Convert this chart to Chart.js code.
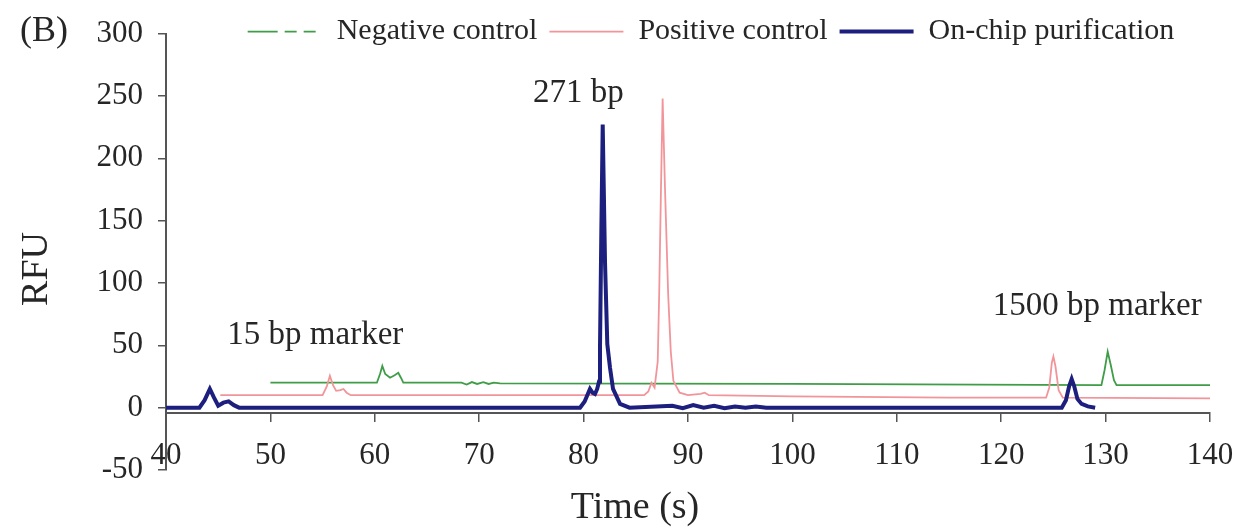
<!DOCTYPE html>
<html>
<head>
<meta charset="utf-8">
<script src="https://cdn.jsdelivr.net/npm/chart.js@4/dist/chart.umd.min.js"></script>
<style>
html,body{margin:0;padding:0;background:#fff;}
#wrap{width:1243px;height:529px;position:relative;}
</style>
</head>
<body>
<div id="wrap"><canvas id="c"></canvas></div>
<script>
// ---- data ----
const seriesLabels = ['Negative control', 'Positive control', 'On-chip purification'];
const xTickValues = [40, 50, 60, 70, 80, 90, 100, 110, 120, 130, 140];
const yTickValues = [-50, 0, 50, 100, 150, 200, 250, 300];

const negTime = [50, 60.2, 60.5, 60.72, 61.0, 61.46, 61.9, 62.25, 62.5, 62.73, 68.3, 68.8, 69.3, 69.8, 70.4, 70.9, 71.4, 72.0, 100, 129.6, 129.9, 130.2, 130.5, 130.8, 131.05, 140];
const negRFU  = [20, 20, 27, 33.5, 27, 24, 26, 28, 24, 20, 20, 18.5, 20.5, 19, 20.5, 19, 20, 19.5, 19, 18, 30, 45, 34, 22, 18, 18];

const posTime = [45.2, 55.0, 55.4, 55.7, 56.0, 56.3, 56.7, 57.0, 57.3, 57.7, 85.8, 86.2, 86.5, 86.8, 87.1, 87.24, 87.4, 87.57, 87.8, 88.1, 88.35, 88.6, 89.2, 90.0, 91.2, 91.6, 92.0, 100, 115, 124.3, 124.6, 124.85, 125.0, 125.2, 125.5, 125.9, 140];
const posRFU  = [10, 10, 17, 25.5, 18, 13.5, 14, 15, 12, 10, 10, 13, 20, 16, 37, 91, 170, 248, 175, 91, 45, 21.5, 12, 10, 11, 12, 10, 9, 8, 8, 16, 36, 41, 33, 14, 8, 7.5];

const chipTime = [40, 43.2, 43.7, 44.2, 44.6, 45.0, 45.5, 46.0, 46.5, 47.0, 79.66, 80.1, 80.61, 80.85, 81.09, 81.3, 81.48, 81.57, 81.7, 81.83, 82.05, 82.27, 82.53, 82.82, 83.49, 84.4, 88.5, 89.5, 90.5, 91.5, 92.5, 93.5, 94.5, 95.5, 96.5, 97.5, 125.8, 126.2, 126.5, 126.75, 127.0, 127.3, 127.7, 128.3, 129.0];
const chipRFU  = [0, 0, 6, 15, 8, 1.5, 4, 5, 2, 0, 0, 5, 15, 12, 11, 15, 21, 48, 143, 227, 117, 51, 32, 15, 3, 0, 1.5, -0.5, 2, 0, 1.5, -0.5, 1, 0, 1, 0, 0, 6, 17, 23, 17, 7, 3, 1, 0];

const annotationTexts = ['15 bp marker', '271 bp', '1500 bp marker'];
// anchor points of the annotations, in data units (time, RFU)
const annotationAnchors = [[54.3, 58], [79.5, 252], [129.2, 81]];

// ---- styles ----
const FONT = "'Liberation Serif', 'Times New Roman', serif";
const TEXT = '#262626';
const AXIS = '#555555';
const toPts = (xs, ys) => xs.map((x, i) => ({x: x, y: ys[i]}));

const overlay = {
  id: 'overlay',
  afterLayout(chart) {
    const lg = chart.legend;
    if (!lg) return;
    const dx = 106, dy = 23;
    lg.left += dx; lg.right += dx; lg.top += dy; lg.bottom += dy;
  },
  afterDraw(chart) {
    const ctx = chart.ctx;
    const xs = chart.scales.x, ys = chart.scales.y;
    ctx.save();
    ctx.fillStyle = TEXT;
    ctx.textBaseline = 'middle';
    ctx.textAlign = 'center';
    ctx.font = '33px ' + FONT;
    annotationTexts.forEach((t, i) => {
      const a = annotationAnchors[i];
      ctx.fillText(t, xs.getPixelForValue(a[0]), ys.getPixelForValue(a[1]));
    });
    ctx.font = '36px ' + FONT;
    ctx.fillText('(B)', 44, 32);
    ctx.font = '38px ' + FONT;
    ctx.fillText('Time (s)', 635, 508);
    ctx.save();
    ctx.translate(37, 269);
    ctx.rotate(-Math.PI / 2);
    ctx.fillText('RFU', 0, 0);
    ctx.restore();
    ctx.restore();
  }
};

const legendDash = [[30, 7, 12, 7, 12, 7], [], []];

new Chart(document.getElementById('c'), {
  type: 'line',
  data: {
    datasets: [
      {label: seriesLabels[0], data: toPts(negTime, negRFU), borderColor: '#3f9c47', backgroundColor: '#3f9c47', borderWidth: 1.8, pointRadius: 0, order: 2},
      {label: seriesLabels[1], data: toPts(posTime, posRFU), borderColor: '#f2959a', backgroundColor: '#f2959a', borderWidth: 1.8, pointRadius: 0, order: 1},
      {label: seriesLabels[2], data: toPts(chipTime, chipRFU), borderColor: '#1c1f7d', backgroundColor: '#1c1f7d', borderWidth: 4, pointRadius: 0, order: 0}
    ]
  },
  options: {
    responsive: true,
    maintainAspectRatio: false,
    animation: false,
    devicePixelRatio: 1,
    layout: {padding: {top: -22, right: 33, bottom: 59, left: 0}},
    plugins: {
      tooltip: {enabled: false},
      legend: {
        display: true,
        position: 'top',
        labels: {
          usePointStyle: true,
          pointStyleWidth: 74,
          boxHeight: 30,
          padding: 12,
          color: TEXT,
          font: {family: FONT, size: 30},
          sort: (a, b) => a.datasetIndex - b.datasetIndex,
          generateLabels(chart) {
            const items = Chart.defaults.plugins.legend.labels.generateLabels(chart);
            items.forEach(it => {
              it.pointStyle = 'line';
              it.lineDash = legendDash[it.datasetIndex];
            });
            return items;
          }
        }
      }
    },
    scales: {
      x: {
        type: 'linear',
        position: {y: -4},
        min: 40, max: 140,
        afterBuildTicks: s => { s.ticks = xTickValues.map(v => ({value: v})); },
        afterFit: s => { s.paddingLeft = 0; s.paddingRight = 0; s.paddingTop = 0; s.paddingBottom = 0; },
        border: {display: true, color: AXIS, width: 2},
        grid: {drawOnChartArea: false, drawTicks: true, tickLength: 8, color: AXIS, lineWidth: 1.5},
        ticks: {color: TEXT, padding: 17, maxRotation: 0, autoSkip: false, font: {family: FONT, size: 31}}
      },
      y: {
        type: 'linear',
        position: 'left',
        min: -50, max: 300,
        afterBuildTicks: s => { s.ticks = yTickValues.map(v => ({value: v})); },
        afterFit: s => { s.width = 166; },
        border: {display: true, color: AXIS, width: 2},
        grid: {drawOnChartArea: false, drawTicks: true, tickLength: 8, color: AXIS, lineWidth: 1.5},
        ticks: {color: TEXT, padding: 15, font: {family: FONT, size: 31}}
      }
    }
  },
  plugins: [overlay]
});
</script>
</body>
</html>
